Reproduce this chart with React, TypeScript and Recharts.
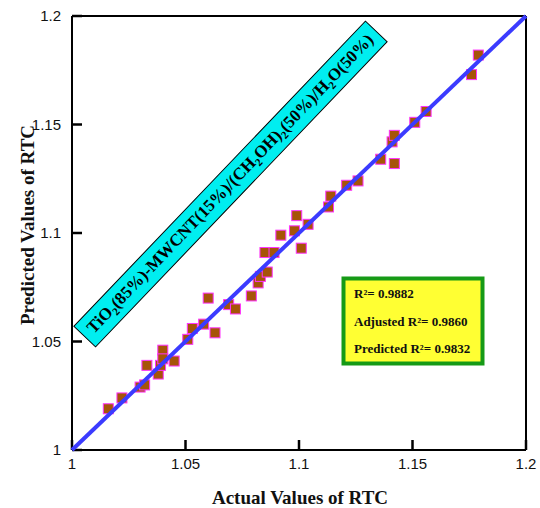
import { ScatterChart, Scatter, XAxis, YAxis, ReferenceLine } from "recharts";

// values
const actual = [
  1.016, 1.022, 1.03, 1.032, 1.033, 1.038, 1.039, 1.04, 1.04, 1.045,
  1.051, 1.053, 1.058, 1.06, 1.063, 1.069, 1.072, 1.079, 1.082, 1.083,
  1.086, 1.085, 1.089, 1.092, 1.098, 1.099, 1.101, 1.104, 1.113, 1.114,
  1.121, 1.126, 1.136, 1.141, 1.142, 1.142, 1.151, 1.156, 1.176, 1.179,
];
const predicted = [
  1.019, 1.024, 1.029, 1.03, 1.039, 1.035, 1.039, 1.046, 1.042, 1.041,
  1.051, 1.056, 1.058, 1.07, 1.054, 1.067, 1.065, 1.071, 1.077, 1.08,
  1.082, 1.091, 1.091, 1.099, 1.101, 1.108, 1.093, 1.104, 1.112, 1.117,
  1.122, 1.124, 1.134, 1.142, 1.145, 1.132, 1.151, 1.156, 1.173, 1.182,
];
const fitLine = [1, 1.2];
const majorTicks = [1, 1.05, 1.1, 1.15, 1.2];
const minorTicks = [
  1.01, 1.02, 1.03, 1.04, 1.06, 1.07, 1.08, 1.09,
  1.11, 1.12, 1.13, 1.14, 1.16, 1.17, 1.18, 1.19,
];
const stats = ["R²= 0.9882", "Adjusted R²= 0.9860", "Predicted R²= 0.9832"];

const points = actual.map((x, i) => ({ x, y: predicted[i] }));
const lineData = fitLine.map((v) => ({ x: v, y: v }));

const sans = "'Liberation Sans', Arial, sans-serif";
const serif = "'Liberation Serif', 'Times New Roman', serif";

const tickFont = { fontFamily: sans, fontSize: 15, fill: "#111" };

const Square = (p: any) => (
  <rect x={p.cx - 5} y={p.cy - 5} width={10} height={10} fill="#a65408" stroke="#ff33ff" strokeWidth={1} />
);

export default function App() {
  return (
    <div style={{ position: "absolute", left: 0, top: 0, width: 540, height: 508, background: "#fff" }}>
      <ScatterChart width={540} height={508} margin={{ top: 16, right: 14, bottom: 28, left: 12 }}>
        {/* main axes: major ticks pointing inward */}
        <XAxis
          type="number"
          dataKey="x"
          domain={[1, 1.2]}
          ticks={majorTicks}
          interval={0}
          axisLine={{ stroke: "#000", strokeWidth: 2 }}
          tickLine={{ stroke: "#000", strokeWidth: 2.5 }}
          tickSize={-10}
          tickMargin={18}
          height={30}
          tick={tickFont}
          tickFormatter={(v: number) => String(v)}
        />
        <YAxis
          type="number"
          dataKey="y"
          domain={[1, 1.2]}
          ticks={majorTicks}
          interval={0}
          axisLine={{ stroke: "#000", strokeWidth: 2 }}
          tickLine={{ stroke: "#000", strokeWidth: 2.5 }}
          tickSize={-10}
          tickMargin={21}
          width={60}
          tick={tickFont}
          tickFormatter={(v: number) => String(v)}
        />
        {/* second pair of axes only for the minor ticks */}
        <XAxis
          xAxisId="minor"
          type="number"
          domain={[1, 1.2]}
          ticks={minorTicks}
          interval={0}
          axisLine={false}
          tickLine={{ stroke: "#000", strokeWidth: 1.5 }}
          tickSize={-6}
          tick={false}
          height={0}
        />
        <YAxis
          yAxisId="minor"
          type="number"
          domain={[1, 1.2]}
          ticks={minorTicks}
          interval={0}
          axisLine={false}
          tickLine={{ stroke: "#000", strokeWidth: 1.5 }}
          tickSize={-6}
          tick={false}
          width={0}
        />
        <ReferenceLine y={1.2} stroke="#000" strokeWidth={2} />
        <ReferenceLine x={1.2} stroke="#000" strokeWidth={2} />
        <Scatter data={points} shape={Square} isAnimationActive={false} />
        <Scatter
          data={lineData}
          line={{ stroke: "#3b3bff", strokeWidth: 4 }}
          shape={() => <g />}
          isAnimationActive={false}
        />
      </ScatterChart>
      <svg
        width={540}
        height={508}
        style={{ position: "absolute", left: 0, top: 0, pointerEvents: "none" }}
      >
        <g transform="translate(230.5,184) rotate(-46.3)">
          <rect x={-211} y={-15} width={422} height={30} fill="#00eef0" stroke="#000" strokeWidth={1} />
          <text x={0} y={5} textAnchor="middle" fontFamily={serif} fontWeight="bold" fontSize={17} fill="#000">
            TiO<tspan fontSize={11} dy={4}>2</tspan>
            <tspan dy={-4}>(85%)-MWCNT(15%)/(CH</tspan>
            <tspan fontSize={11} dy={4}>2</tspan>
            <tspan dy={-4}>OH)</tspan>
            <tspan fontSize={11} dy={4}>2</tspan>
            <tspan dy={-4}>(50%)/H</tspan>
            <tspan fontSize={11} dy={4}>2</tspan>
            <tspan dy={-4}>O(50%)</tspan>
          </text>
        </g>
        <rect x={343.5} y={278.5} width={139} height={85} fill="#ffff33" stroke="#169a16" strokeWidth={4} />
        {stats.map((s, i) => (
          <text key={s} x={354} y={298 + i * 27.5} fontFamily={serif} fontWeight="bold" fontSize={13} fill="#111">
            {s}
          </text>
        ))}
        <text x={300} y={497} textAnchor="middle" dominantBaseline="central" fontFamily={serif} fontWeight="bold" fontSize={19} fill="#111">
          Actual Values of RTC
        </text>
        <text
          transform="translate(27,225) rotate(-90)"
          textAnchor="middle"
          dominantBaseline="central"
          fontFamily={serif}
          fontWeight="bold"
          fontSize={19}
          fill="#111"
        >
          Predicted Values of RTC
        </text>
      </svg>
    </div>
  );
}
